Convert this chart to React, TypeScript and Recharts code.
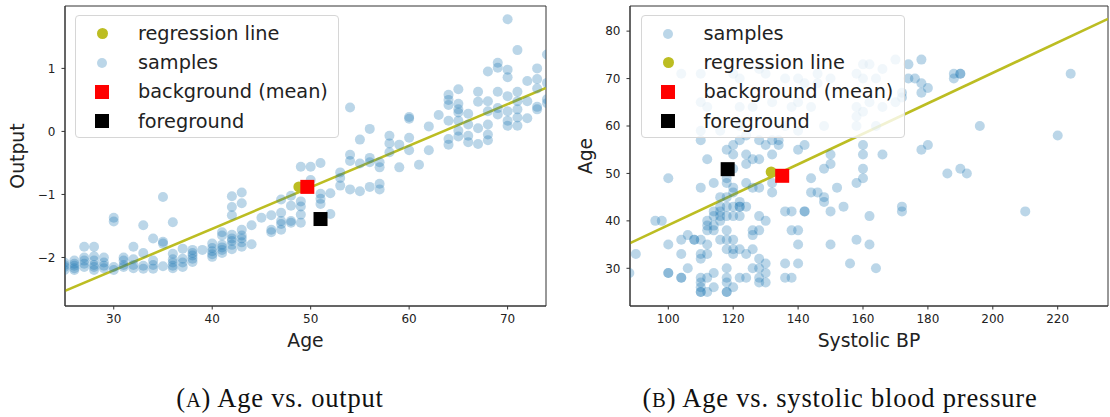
import React from "react";
import { ScatterChart, Scatter, XAxis, YAxis, ReferenceLine, ReferenceArea, Label } from "recharts";

// (A) age vs. model output: one list of outputs per age
const ages = [
  25, 26, 27, 28, 29, 30, 31, 32, 33, 34, 35, 36, 37, 38, 39, 40, 41, 42, 43, 44, 45, 46, 47, 48, 49,
  50, 51, 52, 53, 54, 55, 56, 57, 58, 59, 60, 61, 62, 63, 64, 65, 66, 67, 68, 69, 70, 71, 72, 73, 74,
];
const outputsByAge = [
  [-2.08, -2.12, -2.15, -2.2],
  [-2.05, -2.1, -2.13, -2.17, -2.2],
  [-1.83, -2.0, -2.05, -2.1, -2.15],
  [-1.83, -1.98, -2.05, -2.12, -2.15, -2.2],
  [-2.0, -2.08, -2.13, -2.17],
  [-1.37, -1.43, -2.15, -2.2],
  [-2.0, -2.05, -2.12, -2.15],
  [-1.83, -2.03, -2.12, -2.17],
  [-1.49, -1.93, -2.13, -2.18],
  [-1.7, -2.05, -2.12, -2.18],
  [-1.04, -1.75, -1.78, -2.14],
  [-1.44, -1.94, -2.03, -2.08, -2.13, -2.17],
  [-1.86, -2.02, -2.08, -2.15],
  [-1.88, -1.93, -1.97, -2.02, -2.07],
  [-1.88],
  [-1.78, -1.85, -1.9, -1.95, -1.99],
  [-1.6, -1.65, -1.8, -1.84, -1.88, -1.93],
  [-1.03, -1.2, -1.33, -1.64, -1.7, -1.74, -1.8, -1.87],
  [-0.97, -1.14, -1.56, -1.65, -1.7, -1.76, -1.83],
  [-1.49, -1.79],
  [-1.37],
  [-1.33, -1.56, -1.6],
  [-1.08, -1.29, -1.42, -1.47, -1.56],
  [-1.02, -1.18, -1.42, -1.45],
  [-0.56, -1.11, -1.19, -1.32, -1.45],
  [-0.56, -0.77],
  [-0.5, -0.99, -1.07, -1.15],
  [-0.98, -1.31],
  [-0.65, -0.74, -0.86],
  [0.38, -0.37, -0.47, -0.92],
  [-0.13, -0.51, -0.95],
  [0.04, -0.42, -0.49, -0.88],
  [-0.49, -0.57, -0.83, -0.92],
  [-0.07, -0.19, -0.33],
  [-0.21, -0.57],
  [0.23, 0.2, -0.1, -0.3],
  [-0.53],
  [0.08, -0.3],
  [0.26],
  [0.58, 0.5, 0.42, 0.17, -0.12, -0.21],
  [0.67, 0.44, 0.35, 0.3, 0.17, 0.01, -0.08],
  [0.28, 0.11, -0.07, -0.17],
  [0.63, 0.47, 0.05, -0.2],
  [0.95, 0.48, 0.32, 0.11, -0.05, -0.14],
  [1.09, 1.01, 0.63, 0.37, 0.27],
  [1.78, 0.98, 0.86, 0.56, 0.32, 0.17, 0.09],
  [1.29, 0.63, 0.48, 0.35, 0.22, 0.09],
  [0.8, 0.48, 0.21],
  [1.0, 0.83, 0.68, 0.39, 0.35],
  [1.22, 0.77, 0.51, 0.45],
];
const ageDomain = [25.05, 73.9];
const outputDomain = [-2.77, 1.99];
const ageTicks = [30, 40, 50, 60, 70];
const outputTicks = [-2, -1, 0, 1];
const ageRegression = [{ x: 25.05, y: -2.53 }, { x: 73.9, y: 0.69 }];
const ageRegressionDot = [{ x: 48.8, y: -0.88 }];
const ageBackground = [{ x: 49.66, y: -0.88 }];
const ageForeground = [{ x: 51.0, y: -1.39 }];

// (B) age vs. systolic blood pressure: one list of ages per BP reading
const bpValues = [
  88, 90, 96, 98, 100, 104, 106, 108, 110, 112, 114, 116, 118, 120, 122, 124, 126, 128, 130, 132, 134, 136,
  138, 140, 142, 144, 146, 148, 150, 152, 154, 156, 158, 160, 162, 164, 166, 170, 172, 174, 176, 178, 180,
  186, 188, 190, 192, 196, 210, 220, 224,
];
const agesByBp = [
  [29],
  [33],
  [40],
  [40],
  [49, 35, 29, 29],
  [36, 33, 28, 28, 71],
  [37, 30],
  [36, 36],
  [71, 65, 59, 57, 47, 36, 33, 32, 28, 27, 26, 25, 25],
  [64, 53, 40, 39, 38, 35, 33, 28, 25],
  [48, 42, 41, 39, 38, 29, 26],
  [59, 45, 43, 42, 41, 40, 36],
  [55, 49, 48, 45, 43, 41, 38, 36, 34, 30, 28, 27, 25, 25],
  [71, 56, 54, 51, 47, 46, 43, 41, 36, 34, 33, 26],
  [70, 64, 60, 57, 44, 43, 43, 41, 34, 28],
  [58, 54, 52, 48, 43, 33, 28],
  [64, 53, 47, 38, 37, 34, 30],
  [72, 57, 53, 47, 41, 38, 32, 30, 28, 27],
  [71, 56, 40, 31, 29, 27],
  [65, 57, 54, 48, 46],
  [57, 56],
  [70, 60, 42, 31, 28],
  [64, 42, 38, 28],
  [70, 65, 59, 55, 38, 35, 31],
  [69, 56, 42, 42],
  [64, 46, 49],
  [71, 69, 46],
  [60, 51, 44, 45],
  [70, 54, 52, 42, 35],
  [47],
  [43],
  [31],
  [71, 64, 62, 60, 48, 36],
  [73, 70, 63, 56, 54, 51, 49],
  [73, 65, 41, 35],
  [70, 60, 30],
  [72, 64, 54],
  [74, 65],
  [67, 66, 43, 42],
  [73, 70],
  [70],
  [74, 69, 67, 55],
  [68, 56],
  [50],
  [71, 70],
  [71, 71, 51],
  [50],
  [60],
  [42],
  [58],
  [71],
];
const bpDomain = [88.2, 235.5];
const bpAgeDomain = [22.05, 85.3];
const bpTicks = [100, 120, 140, 160, 180, 200, 220];
const bpAgeTicks = [30, 40, 50, 60, 70, 80];
const bpRegression = [{ x: 88.2, y: 35.3 }, { x: 235.5, y: 82.6 }];
const bpRegressionDot = [{ x: 131.7, y: 50.3 }];
const bpBackground = [{ x: 135.1, y: 49.5 }];
const bpForeground = [{ x: 118.3, y: 50.9 }];

const ageSamples = ages.flatMap((a, i) => outputsByAge[i].map((o) => ({ x: a, y: o })));
const bpSamples = bpValues.flatMap((b, i) => agesByBp[i].map((a) => ({ x: b, y: a })));

const SANS = "'DejaVu Sans', sans-serif";
const BLUE = "#1f77b4";
const OLIVE = "#bcbd22";
const AXIS = "#333";
const tickStyle = { fill: "#222", fontSize: 12, fontFamily: SANS };

const minus = (v: number) => (v < 0 ? `\u2212${Math.abs(v)}` : `${v}`);

const sampleDot = (p: any) => <circle cx={p.cx} cy={p.cy} r={5} fill={BLUE} fillOpacity={0.3} />;
const oliveDot = (p: any) => <circle cx={p.cx} cy={p.cy} r={5.5} fill={OLIVE} />;
const square = (color: string) => (p: any) => (
  <rect x={p.cx - 7} y={p.cy - 7} width={14} height={14} fill={color} />
);

const xLabel = (text: string) => (p: any) => {
  const vb = p.viewBox || { x: 0, width: 0 };
  return (
    <text x={vb.x + vb.width / 2} y={347} textAnchor="middle" fontSize={18.8} fontFamily={SANS} fill="#222">
      {text}
    </text>
  );
};
const yLabel = (text: string, x: number) => (p: any) => {
  const vb = p.viewBox || { y: 0, height: 0 };
  const cy = vb.y + vb.height / 2;
  return (
    <text x={x} y={cy} transform={`rotate(-90, ${x}, ${cy})`} textAnchor="middle" fontSize={18.8} fontFamily={SANS} fill="#222">
      {text}
    </text>
  );
};

type Entry = { name: string; kind: "samples" | "line" | "bg" | "fg" };

function Marker({ kind }: { kind: Entry["kind"] }) {
  if (kind === "samples")
    return <div style={{ width: 10, height: 10, borderRadius: 5, background: "rgba(31,119,180,0.3)" }} />;
  if (kind === "line") return <div style={{ width: 11, height: 11, borderRadius: 6, background: OLIVE }} />;
  return <div style={{ width: 14, height: 14, background: kind === "bg" ? "#ff0000" : "#000" }} />;
}

function LegendBox({ entries, left, gap }: { entries: Entry[]; left: number; gap: number }) {
  return (
    <div
      style={{
        position: "absolute",
        left,
        top: 15,
        width: 264,
        height: 123,
        boxSizing: "border-box",
        paddingTop: 3,
        border: "1px solid #d6d6d6",
        borderRadius: 4,
        background: "rgba(255,255,255,0.8)",
        fontFamily: SANS,
        fontSize: 19.3,
        color: "#222",
      }}
    >
      {entries.map((e) => (
        <div key={e.name} style={{ display: "flex", alignItems: "center", height: 29.2 }}>
          <div style={{ width: 52, display: "flex", justifyContent: "center" }}>
            <Marker kind={e.kind} />
          </div>
          <span style={{ marginLeft: gap, whiteSpace: "nowrap" }}>{e.name}</span>
        </div>
      ))}
    </div>
  );
}

const legendA: Entry[] = [
  { name: "regression line", kind: "line" },
  { name: "samples", kind: "samples" },
  { name: "background (mean)", kind: "bg" },
  { name: "foreground", kind: "fg" },
];
const legendB: Entry[] = [
  { name: "samples", kind: "samples" },
  { name: "regression line", kind: "line" },
  { name: "background (mean)", kind: "bg" },
  { name: "foreground", kind: "fg" },
];

const captionStyle: React.CSSProperties = {
  position: "absolute",
  top: 383,
  width: 560,
  textAlign: "center",
  fontFamily: "'Liberation Serif', serif",
  fontSize: 26.5,
  letterSpacing: 0.8,
  lineHeight: "30px",
  color: "#111",
};

export default function App() {
  return (
    <div style={{ position: "absolute", left: 0, top: 0, width: 1110, height: 417, background: "#fff" }}>
      <div style={{ position: "absolute", left: 0, top: 0 }}>
        <ScatterChart width={560} height={360} margin={{ top: 6, right: 14, bottom: 24, left: 0 }}>
          <XAxis
            type="number"
            dataKey="x"
            domain={ageDomain}
            ticks={ageTicks}
            allowDataOverflow
            height={30}
            tickSize={3.5}
            tickMargin={5}
            axisLine={{ stroke: AXIS }}
            tickLine={{ stroke: AXIS }}
            tick={tickStyle}
          >
            <Label content={xLabel("Age")} />
          </XAxis>
          <YAxis
            type="number"
            dataKey="y"
            domain={outputDomain}
            ticks={outputTicks}
            allowDataOverflow
            width={65}
            tickSize={3.5}
            tickMargin={6}
            axisLine={{ stroke: AXIS }}
            tickLine={{ stroke: AXIS }}
            tick={tickStyle}
            tickFormatter={minus}
          >
            <Label content={yLabel("Output", 24)} />
          </YAxis>
          <ReferenceArea x1={ageDomain[0]} x2={ageDomain[1]} y1={outputDomain[0]} y2={outputDomain[1]} fill="none" stroke={AXIS} ifOverflow="visible" />
          <Scatter data={ageSamples} shape={sampleDot} isAnimationActive={false} />
          <ReferenceLine segment={ageRegression} stroke={OLIVE} strokeWidth={2.6} ifOverflow="hidden" />
          <Scatter data={ageRegressionDot} shape={oliveDot} isAnimationActive={false} />
          <Scatter data={ageBackground} shape={square("#ff0000")} isAnimationActive={false} />
          <Scatter data={ageForeground} shape={square("#000000")} isAnimationActive={false} />
        </ScatterChart>
      </div>
      <LegendBox entries={legendA} left={75} gap={10} />

      <div style={{ position: "absolute", left: 560, top: 0 }}>
        <ScatterChart width={550} height={360} margin={{ top: 6, right: 2, bottom: 24, left: 0 }}>
          <XAxis
            type="number"
            dataKey="x"
            domain={bpDomain}
            ticks={bpTicks}
            allowDataOverflow
            height={30}
            tickSize={3.5}
            tickMargin={5}
            axisLine={{ stroke: AXIS }}
            tickLine={{ stroke: AXIS }}
            tick={tickStyle}
          >
            <Label content={xLabel("Systolic BP")} />
          </XAxis>
          <YAxis
            type="number"
            dataKey="y"
            domain={bpAgeDomain}
            ticks={bpAgeTicks}
            allowDataOverflow
            width={70}
            tickSize={3.5}
            tickMargin={6}
            axisLine={{ stroke: AXIS }}
            tickLine={{ stroke: AXIS }}
            tick={tickStyle}
          >
            <Label content={yLabel("Age", 32)} />
          </YAxis>
          <ReferenceArea x1={bpDomain[0]} x2={bpDomain[1]} y1={bpAgeDomain[0]} y2={bpAgeDomain[1]} fill="none" stroke={AXIS} ifOverflow="visible" />
          <Scatter data={bpSamples} shape={sampleDot} isAnimationActive={false} />
          <ReferenceLine segment={bpRegression} stroke={OLIVE} strokeWidth={2.6} ifOverflow="hidden" />
          <Scatter data={bpRegressionDot} shape={oliveDot} isAnimationActive={false} />
          <Scatter data={bpBackground} shape={square("#ff0000")} isAnimationActive={false} />
          <Scatter data={bpForeground} shape={square("#000000")} isAnimationActive={false} />
        </ScatterChart>
      </div>
      <LegendBox entries={legendB} left={641} gap={9.5} />

      <div style={{ ...captionStyle, left: 0 }}>
        (<span style={{ fontSize: "0.78em" }}>A</span>) Age vs. output
      </div>
      <div style={{ ...captionStyle, left: 560 }}>
        (<span style={{ fontSize: "0.78em" }}>B</span>) Age vs. systolic blood pressure
      </div>
    </div>
  );
}
